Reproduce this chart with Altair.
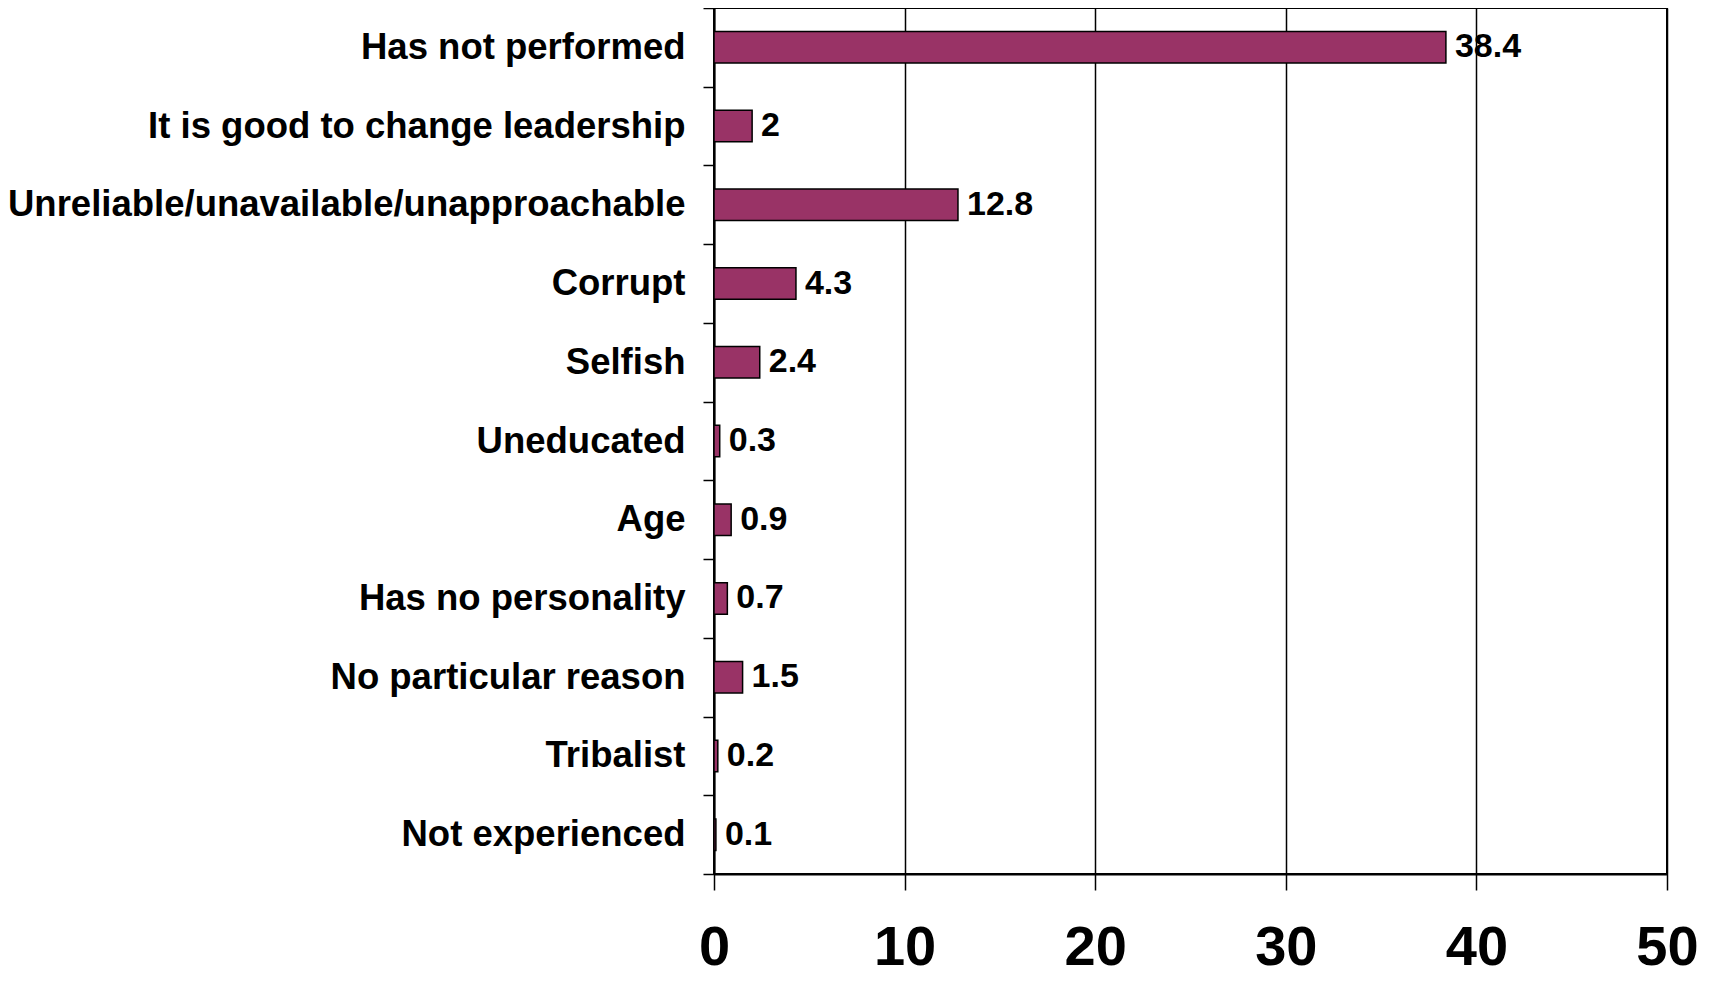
import altair as alt
import pandas as pd

categories = [
    "Has not performed\u00a0",
    "It is good to change leadership",
    "Unreliable/unavailable/unapproachable",
    "Corrupt",
    "Selfish",
    "Uneducated",
    "Age",
    "Has no personality",
    "No particular reason",
    "Tribalist",
    "Not experienced",
]
values = [38.4, 2, 12.8, 4.3, 2.4, 0.3, 0.9, 0.7, 1.5, 0.2, 0.1]
value_labels = ["38.4", "2", "12.8", "4.3", "2.4", "0.3", "0.9", "0.7", "1.5", "0.2", "0.1"]
x_ticks = [0, 10, 20, 30, 40, 50]

df = pd.DataFrame({"reason": categories, "pct": values, "label": value_labels})

FONT = "Liberation Sans"

y_enc = alt.Y(
    "reason:N",
    sort=categories,
    scale=alt.Scale(paddingInner=0, paddingOuter=0),
    axis=alt.Axis(
        title=None,
        tickBand="extent",
        labelFont=FONT,
        labelFontSize=36.5,
        labelFontWeight="bold",
        labelColor="black",
        labelPadding=18,
        labelLimit=2000,
        tickSize=11,
        tickColor="black",
        tickWidth=1.5,
        domainColor="black",
        domainWidth=2,
        grid=False,
    ),
)

x_enc = alt.X(
    "pct:Q",
    scale=alt.Scale(domain=[0, 50], nice=False),
    axis=alt.Axis(
        title=None,
        values=x_ticks,
        grid=True,
        gridColor="black",
        gridWidth=1.5,
        gridOpacity=1,
        labelFont=FONT,
        labelFontSize=56,
        labelFontWeight="bold",
        labelColor="black",
        labelPadding=30,
        labelFlush=False,
        tickSize=16,
        tickColor="black",
        tickWidth=1.5,
        domainColor="black",
        domainWidth=2,
    ),
)

bars = alt.Chart(df).mark_bar(
    height=alt.RelativeBandSize(0.4),
    color="#993366",
    stroke="black",
    strokeWidth=1.5,
).encode(x=x_enc, y=y_enc)

text = alt.Chart(df).mark_text(
    align="left",
    baseline="middle",
    dx=9,
    font=FONT,
    fontSize=34,
    fontWeight="bold",
    color="black",
).encode(
    x=alt.X("pct:Q"),
    y=alt.Y("reason:N", sort=categories),
    text="label:N",
)

chart = (
    (bars + text)
    .properties(
        width=953,
        height=866,
        autosize=alt.AutoSizeParams(type="none"),
        padding={"left": 706, "top": 0, "right": 40, "bottom": 104},
    )
    .configure_view(stroke="black", strokeWidth=2)
)

chart.save("out.html", embed_options={"renderer": "svg", "actions": False})
